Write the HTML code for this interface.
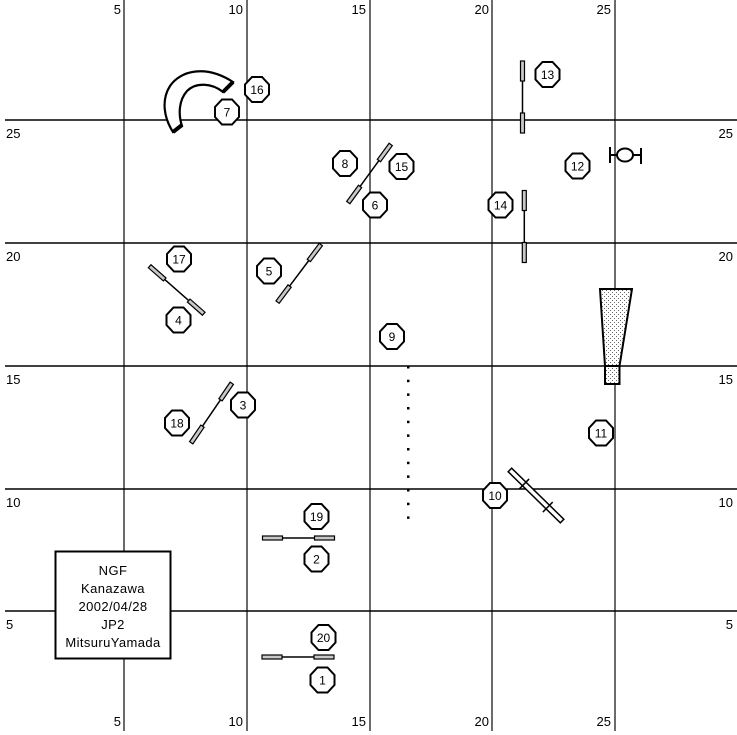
<!DOCTYPE html>
<html><head><meta charset="utf-8"><style>
html,body{margin:0;padding:0;background:#fff;}
svg{display:block;}
text{font-family:"Liberation Sans",Arial,sans-serif;fill:#000;}
</style></head><body>
<svg width="737" height="735" viewBox="0 0 737 735" xmlns="http://www.w3.org/2000/svg">
<defs>
<pattern id="dots" width="4" height="4" patternUnits="userSpaceOnUse">
<rect width="4" height="4" fill="#fff"/>
<rect x="0" y="0" width="1" height="1" fill="#666"/>
<rect x="2" y="2" width="1" height="1" fill="#666"/>
</pattern>
<polygon id="oct" points="12,5 5,12.5 -5,12.5 -12,5 -12,-5 -5,-12.5 5,-12.5 12,-5" fill="#fff" stroke="#000" stroke-width="2"/>
<g id="jump">
<line x1="-16" y1="0" x2="16" y2="0" stroke="#000" stroke-width="1.5"/>
<rect x="-36" y="-2" width="20" height="4" fill="#c8c8c8" stroke="#000" stroke-width="1.2"/>
<rect x="16" y="-2" width="20" height="4" fill="#c8c8c8" stroke="#000" stroke-width="1.2"/>
</g>
</defs>

<!-- grid -->
<g stroke="#3a3a3a" stroke-width="1.5">
<line x1="124" y1="0" x2="124" y2="731"/>
<line x1="247" y1="0" x2="247" y2="731"/>
<line x1="370" y1="0" x2="370" y2="731"/>
<line x1="492" y1="0" x2="492" y2="731"/>
<line x1="615" y1="0" x2="615" y2="731"/>
</g>
<g stroke="#000" stroke-width="1.5">
<line x1="5" y1="120" x2="737" y2="120"/>
<line x1="5" y1="243" x2="737" y2="243"/>
<line x1="5" y1="366" x2="737" y2="366"/>
<line x1="5" y1="489" x2="737" y2="489"/>
<line x1="5" y1="611" x2="737" y2="611"/>
</g>

<!-- axis labels -->
<g font-size="13" text-anchor="end">
<text x="121" y="14">5</text>
<text x="243" y="14">10</text>
<text x="366" y="14">15</text>
<text x="489" y="14">20</text>
<text x="611" y="14">25</text>
<text x="121" y="726">5</text>
<text x="243" y="726">10</text>
<text x="366" y="726">15</text>
<text x="489" y="726">20</text>
<text x="611" y="726">25</text>
<text x="733" y="138">25</text>
<text x="733" y="261">20</text>
<text x="733" y="384">15</text>
<text x="733" y="507">10</text>
<text x="733" y="629">5</text>
</g>
<g font-size="13">
<text x="6" y="138">25</text>
<text x="6" y="261">20</text>
<text x="6" y="384">15</text>
<text x="6" y="507">10</text>
<text x="6" y="629">5</text>
</g>

<!-- curved tunnel -->
<path d="M173,132 C164,118 161,100 170,86 C180,71 205,64 233,82 L223,92 C212,83 196,82 187,91 C179,100 178,114 182,126 Z" fill="#fff" stroke="#000" stroke-width="2.2"/>
<line x1="173" y1="132" x2="182" y2="125" stroke="#000" stroke-width="4"/>
<line x1="233" y1="82" x2="223" y2="92" stroke="#000" stroke-width="4"/>

<!-- jumps -->
<use href="#jump" transform="translate(298.5,538)"/>
<use href="#jump" transform="translate(298,657)"/>
<use href="#jump" transform="translate(522.5,97) rotate(90)"/>
<use href="#jump" transform="translate(524.3,226.5) rotate(90)"/>
<use href="#jump" transform="translate(369.5,173.5) rotate(-53.9)"/>
<use href="#jump" transform="translate(176.7,290) rotate(41.3)"/>
<use href="#jump" transform="translate(299.2,273.3) rotate(-53.1)"/>
<use href="#jump" transform="translate(211.5,413) rotate(-55.7)"/>

<!-- spread jump 10 -->
<g transform="translate(536,495.5) rotate(44.4)">
<rect x="-36.5" y="-2.5" width="73" height="5" fill="#fff" stroke="#000" stroke-width="1.5"/>
<line x1="-16.5" y1="-7" x2="-16.5" y2="7" stroke="#000" stroke-width="1.5"/>
<line x1="16.5" y1="-7" x2="16.5" y2="7" stroke="#000" stroke-width="1.5"/>
</g>

<!-- weave poles -->
<g fill="#000">
<rect x="407" y="366" width="2.5" height="2.5"/>
<rect x="407" y="379.7" width="2.5" height="2.5"/>
<rect x="407" y="393.4" width="2.5" height="2.5"/>
<rect x="407" y="407" width="2.5" height="2.5"/>
<rect x="407" y="420.7" width="2.5" height="2.5"/>
<rect x="407" y="434.4" width="2.5" height="2.5"/>
<rect x="407" y="448" width="2.5" height="2.5"/>
<rect x="407" y="461.7" width="2.5" height="2.5"/>
<rect x="407" y="475.4" width="2.5" height="2.5"/>
<rect x="407" y="489" width="2.5" height="2.5"/>
<rect x="407" y="502.7" width="2.5" height="2.5"/>
<rect x="407" y="516.4" width="2.5" height="2.5"/>
</g>

<!-- chute -->
<polygon points="600,289 632,289 619.5,366 605,366" fill="url(#dots)" stroke="#000" stroke-width="2"/>
<rect x="605" y="366" width="14.5" height="18" fill="url(#dots)" stroke="#000" stroke-width="2"/>

<!-- tire / table symbol -->
<g stroke="#000" stroke-width="2" fill="none">
<line x1="610" y1="147" x2="610" y2="163"/>
<line x1="610" y1="155" x2="617" y2="155"/>
<ellipse cx="625" cy="155" rx="8" ry="6.5" fill="#fff"/>
<line x1="633" y1="155" x2="641" y2="155"/>
<line x1="641" y1="148" x2="641" y2="164"/>
</g>

<!-- info box -->
<rect x="55.5" y="551.5" width="115" height="107" fill="#fff" stroke="#000" stroke-width="2"/>
<g font-size="13" text-anchor="middle" letter-spacing="0.4">
<text x="113" y="575">NGF</text>
<text x="113" y="593">Kanazawa</text>
<text x="113" y="611">2002/04/28</text>
<text x="113" y="629">JP2</text>
<text x="113" y="647">MitsuruYamada</text>
</g>

<!-- numbered octagons -->
<g font-size="12" text-anchor="middle">
<use href="#oct" x="257" y="89.5"/><text x="257" y="94">16</text>
<use href="#oct" x="227" y="112"/><text x="227" y="116.5">7</text>
<use href="#oct" x="547.5" y="74.5"/><text x="547.5" y="79">13</text>
<use href="#oct" x="345" y="163.5"/><text x="345" y="168">8</text>
<use href="#oct" x="401.5" y="166.5"/><text x="401.5" y="171">15</text>
<use href="#oct" x="375" y="205"/><text x="375" y="209.5">6</text>
<use href="#oct" x="577.5" y="166"/><text x="577.5" y="170.5">12</text>
<use href="#oct" x="500.5" y="205"/><text x="500.5" y="209.5">14</text>
<use href="#oct" x="179" y="259"/><text x="179" y="263.5">17</text>
<use href="#oct" x="269" y="271"/><text x="269" y="275.5">5</text>
<use href="#oct" x="178.5" y="320"/><text x="178.5" y="324.5">4</text>
<use href="#oct" x="392" y="336.5"/><text x="392" y="341">9</text>
<use href="#oct" x="243" y="405"/><text x="243" y="409.5">3</text>
<use href="#oct" x="177" y="423"/><text x="177" y="427.5">18</text>
<use href="#oct" x="601" y="433"/><text x="601" y="437.5">11</text>
<use href="#oct" x="495" y="495.5"/><text x="495" y="500">10</text>
<use href="#oct" x="316.5" y="516.5"/><text x="316.5" y="521">19</text>
<use href="#oct" x="316.5" y="559"/><text x="316.5" y="563.5">2</text>
<use href="#oct" x="323.5" y="637.5"/><text x="323.5" y="642">20</text>
<use href="#oct" x="322.5" y="680"/><text x="322.5" y="684.5">1</text>
</g>
</svg>
</body></html>
